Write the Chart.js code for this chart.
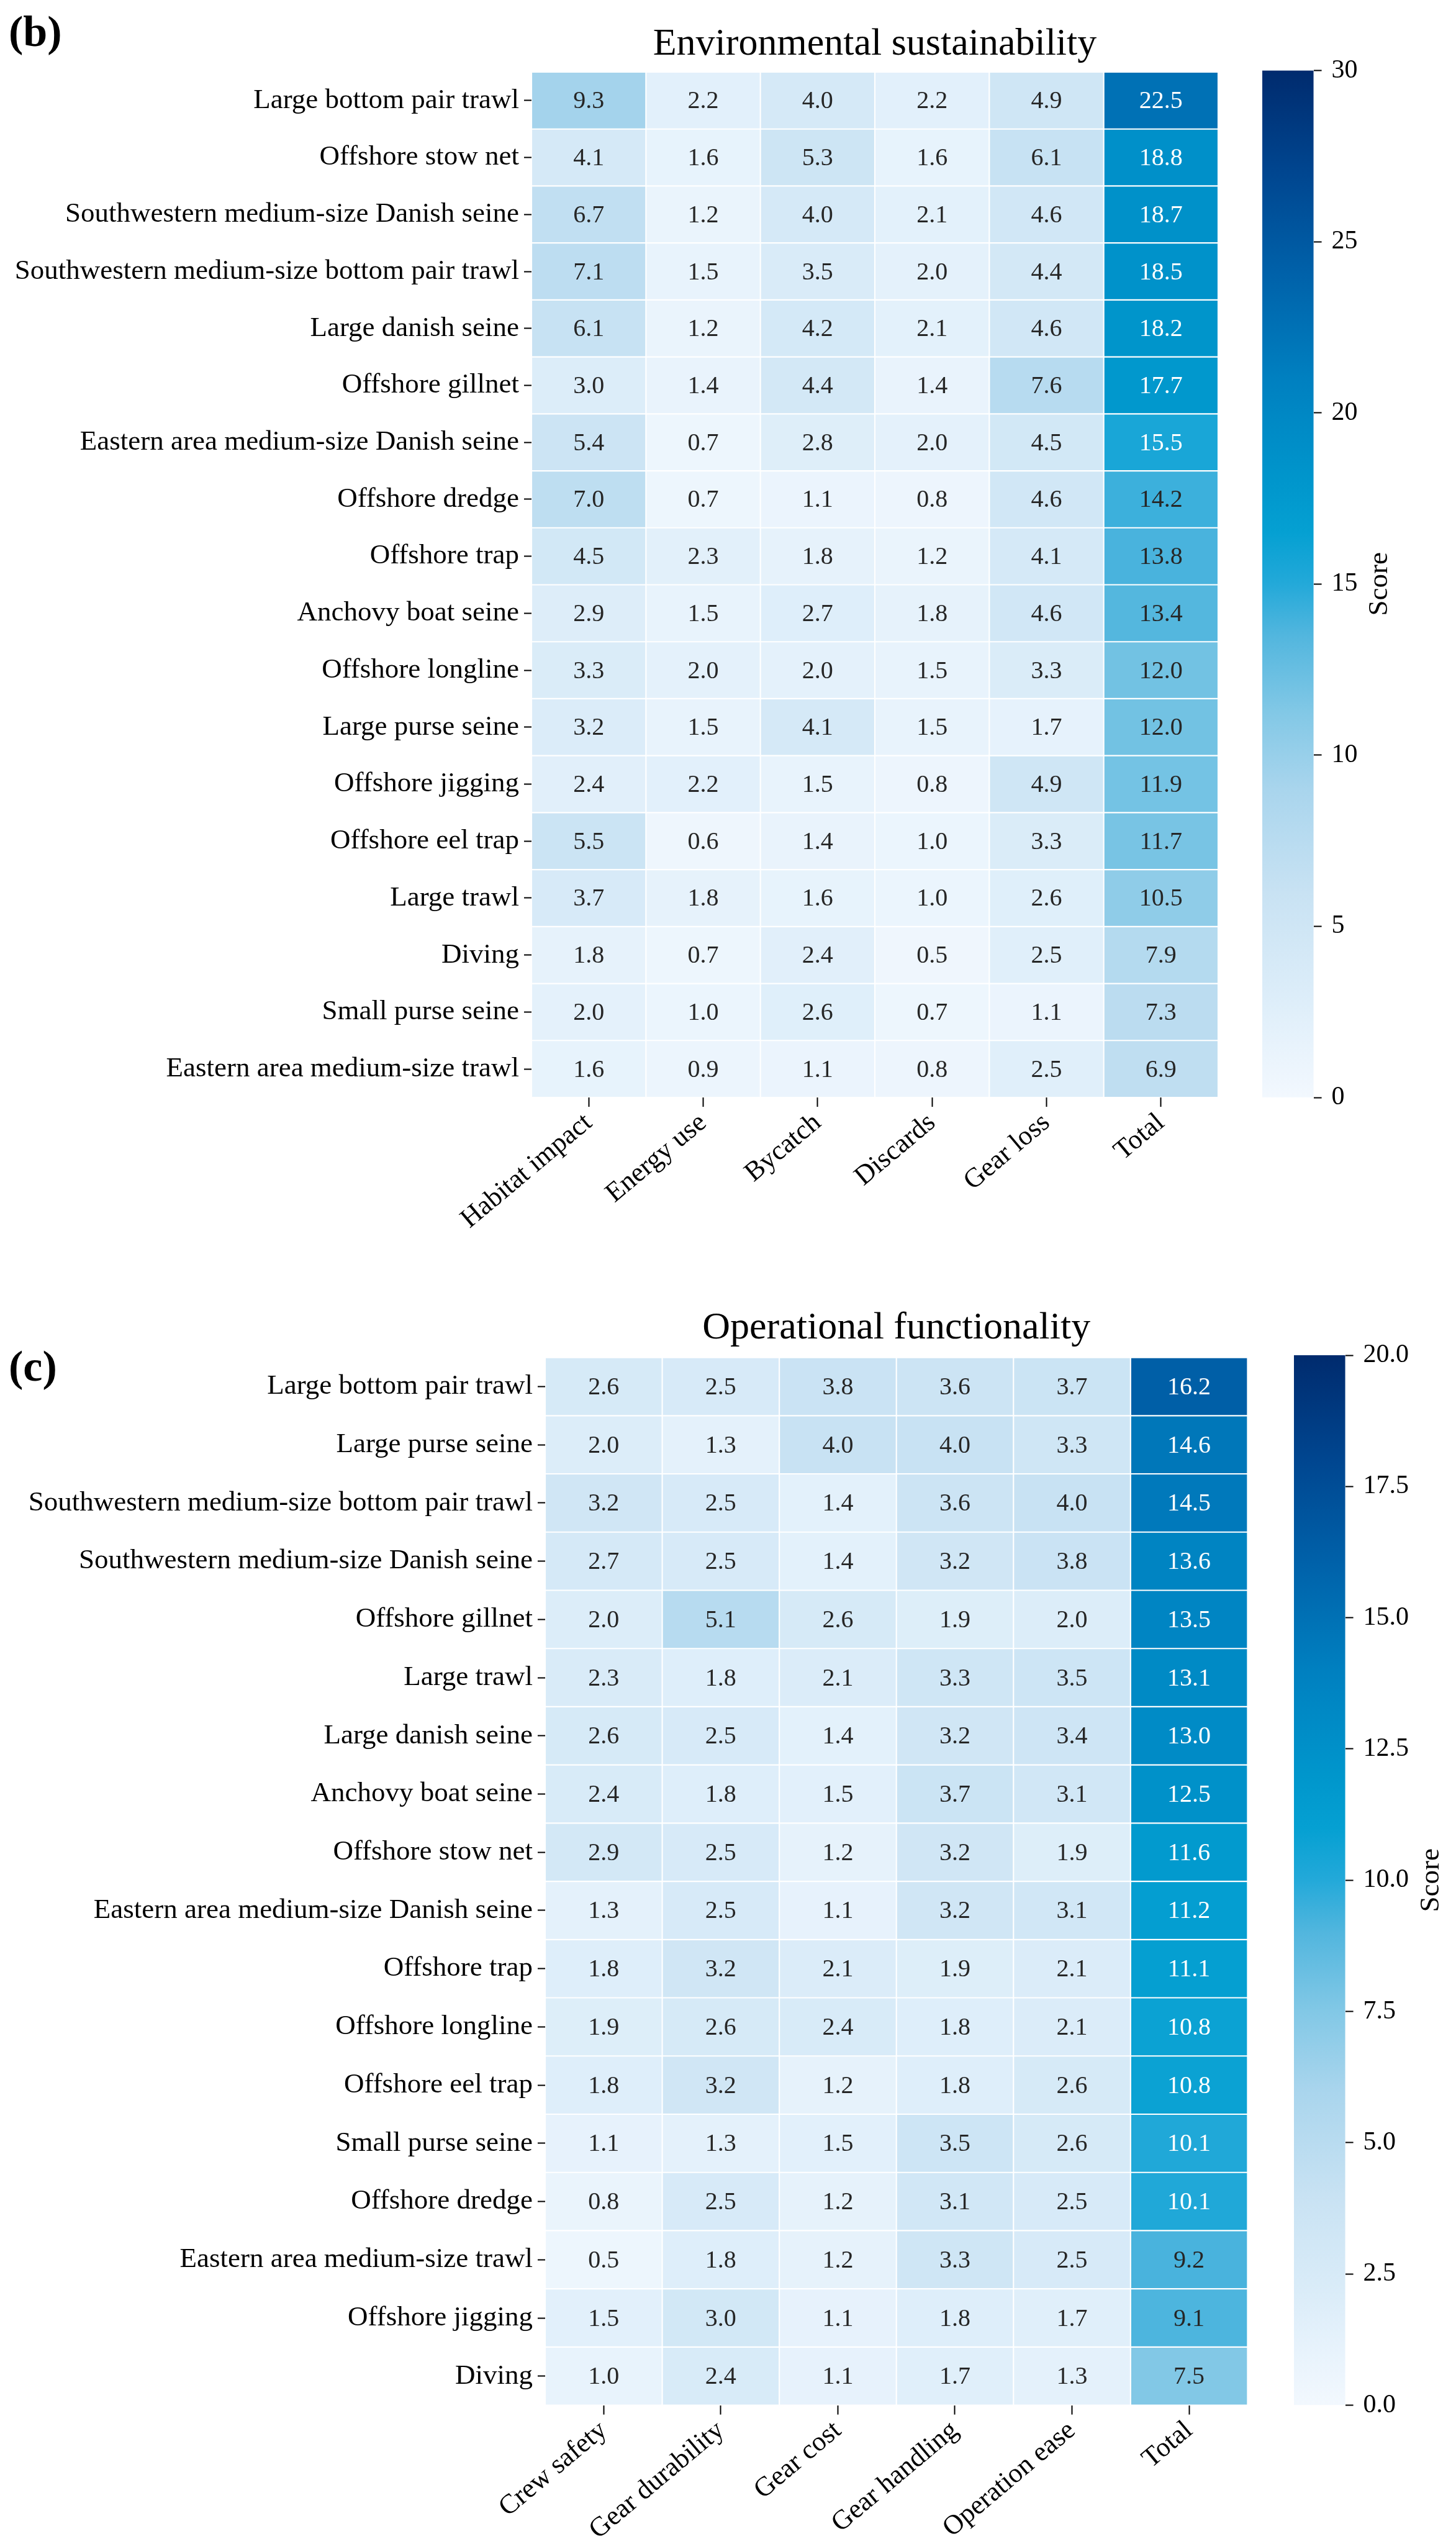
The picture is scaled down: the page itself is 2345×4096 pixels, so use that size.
<!DOCTYPE html>
<html>
<head>
<meta charset="utf-8">
<script src="https://cdn.jsdelivr.net/npm/chart.js@4.4.0/dist/chart.umd.min.js"></script>
<style>
  html, body { margin: 0; padding: 0; background: #fff; }
  #page { position: relative; width: 2345px; height: 4096px; overflow: hidden; }
  canvas { position: absolute; }
</style>
</head>
<body>
<div id="page">
  <canvas id="envChart" width="2345" height="2060" style="left:0;top:0"></canvas>
  <canvas id="envBar" width="312" height="2060" style="left:2033px;top:0"></canvas>
  <canvas id="opChart" width="2345" height="2036" style="left:0;top:2060px"></canvas>
  <canvas id="opBar" width="261" height="2036" style="left:2084px;top:2060px"></canvas>
</div>
<script>
// ---- data: (b) environmental sustainability
var envRows = [
  "Large bottom pair trawl", "Offshore stow net", "Southwestern medium-size Danish seine",
  "Southwestern medium-size bottom pair trawl", "Large danish seine", "Offshore gillnet",
  "Eastern area medium-size Danish seine", "Offshore dredge", "Offshore trap",
  "Anchovy boat seine", "Offshore longline", "Large purse seine", "Offshore jigging",
  "Offshore eel trap", "Large trawl", "Diving", "Small purse seine", "Eastern area medium-size trawl"
];
var envCols = ["Habitat impact", "Energy use", "Bycatch", "Discards", "Gear loss", "Total"];
var envValues = [
  [9.3, 2.2, 4.0, 2.2, 4.9, 22.5],
  [4.1, 1.6, 5.3, 1.6, 6.1, 18.8],
  [6.7, 1.2, 4.0, 2.1, 4.6, 18.7],
  [7.1, 1.5, 3.5, 2.0, 4.4, 18.5],
  [6.1, 1.2, 4.2, 2.1, 4.6, 18.2],
  [3.0, 1.4, 4.4, 1.4, 7.6, 17.7],
  [5.4, 0.7, 2.8, 2.0, 4.5, 15.5],
  [7.0, 0.7, 1.1, 0.8, 4.6, 14.2],
  [4.5, 2.3, 1.8, 1.2, 4.1, 13.8],
  [2.9, 1.5, 2.7, 1.8, 4.6, 13.4],
  [3.3, 2.0, 2.0, 1.5, 3.3, 12.0],
  [3.2, 1.5, 4.1, 1.5, 1.7, 12.0],
  [2.4, 2.2, 1.5, 0.8, 4.9, 11.9],
  [5.5, 0.6, 1.4, 1.0, 3.3, 11.7],
  [3.7, 1.8, 1.6, 1.0, 2.6, 10.5],
  [1.8, 0.7, 2.4, 0.5, 2.5, 7.9],
  [2.0, 1.0, 2.6, 0.7, 1.1, 7.3],
  [1.6, 0.9, 1.1, 0.8, 2.5, 6.9]
];
var envTicks = [0, 5, 10, 15, 20, 25, 30];

// ---- data: (c) operational functionality
var opRows = [
  "Large bottom pair trawl", "Large purse seine", "Southwestern medium-size bottom pair trawl",
  "Southwestern medium-size Danish seine", "Offshore gillnet", "Large trawl", "Large danish seine",
  "Anchovy boat seine", "Offshore stow net", "Eastern area medium-size Danish seine", "Offshore trap",
  "Offshore longline", "Offshore eel trap", "Small purse seine", "Offshore dredge",
  "Eastern area medium-size trawl", "Offshore jigging", "Diving"
];
var opCols = ["Crew safety", "Gear durability", "Gear cost", "Gear handling", "Operation ease", "Total"];
var opValues = [
  [2.6, 2.5, 3.8, 3.6, 3.7, 16.2],
  [2.0, 1.3, 4.0, 4.0, 3.3, 14.6],
  [3.2, 2.5, 1.4, 3.6, 4.0, 14.5],
  [2.7, 2.5, 1.4, 3.2, 3.8, 13.6],
  [2.0, 5.1, 2.6, 1.9, 2.0, 13.5],
  [2.3, 1.8, 2.1, 3.3, 3.5, 13.1],
  [2.6, 2.5, 1.4, 3.2, 3.4, 13.0],
  [2.4, 1.8, 1.5, 3.7, 3.1, 12.5],
  [2.9, 2.5, 1.2, 3.2, 1.9, 11.6],
  [1.3, 2.5, 1.1, 3.2, 3.1, 11.2],
  [1.8, 3.2, 2.1, 1.9, 2.1, 11.1],
  [1.9, 2.6, 2.4, 1.8, 2.1, 10.8],
  [1.8, 3.2, 1.2, 1.8, 2.6, 10.8],
  [1.1, 1.3, 1.5, 3.5, 2.6, 10.1],
  [0.8, 2.5, 1.2, 3.1, 2.5, 10.1],
  [0.5, 1.8, 1.2, 3.3, 2.5, 9.2],
  [1.5, 3.0, 1.1, 1.8, 1.7, 9.1],
  [1.0, 2.4, 1.1, 1.7, 1.3, 7.5]
];
var opTicks = [0, 2.5, 5, 7.5, 10, 12.5, 15, 17.5, 20];

// colour map, pale blue -> navy
var cmapStops = [
  [0.00, [242, 248, 254]],
  [0.05, [232, 243, 252]],
  [0.10, [220, 237, 249]],
  [0.20, [200, 226, 243]],
  [0.30, [169, 213, 237]],
  [0.375, [130, 200, 230]],
  [0.45, [82, 182, 222]],
  [0.50, [35, 169, 217]],
  [0.55, [5, 160, 210]],
  [0.60, [0, 150, 204]],
  [0.70, [0, 128, 192]],
  [0.80, [0, 98, 170]],
  [0.90, [0, 70, 144]],
  [1.00, [0, 43, 110]]
];
function cmap(t) {
  t = Math.max(0, Math.min(1, t));
  for (var k = 1; k < cmapStops.length; k++) {
    var a = cmapStops[k - 1], b = cmapStops[k];
    if (t <= b[0]) {
      var f = (t - a[0]) / (b[0] - a[0]);
      var c = a[1].map(function (v, i) { return Math.round(v + (b[1][i] - v) * f); });
      return "rgb(" + c.join(",") + ")";
    }
  }
  return "rgb(0,43,110)";
}

Chart.defaults.font.family = '"Liberation Serif", serif';
Chart.defaults.color = "#000";

function cellLabels(o) {
  return {
    id: "cellLabels",
    afterDatasetsDraw: function (chart) {
      var ctx = chart.ctx;
      ctx.save();
      ctx.font = o.valueSize + 'px "Liberation Serif"';
      ctx.textAlign = "center";
      ctx.textBaseline = "middle";
      chart.data.datasets.forEach(function (ds, j) {
        chart.getDatasetMeta(j).data.forEach(function (el, i) {
          var v = o.values[i][j];
          var p = el.getCenterPoint();
          ctx.fillStyle = v / o.vmax >= 0.49 ? "#ffffff" : "#262626";
          ctx.fillText(v.toFixed(1), p.x, p.y + 2);
        });
      });
      ctx.restore();
    },
    afterDraw: function (chart) {
      // panel letter
      var ctx = chart.ctx;
      ctx.save();
      ctx.font = 'bold 70px "Liberation Serif"';
      ctx.textBaseline = "middle";
      ctx.fillStyle = "#000";
      ctx.fillText(o.panel, 14, o.panelY);
      ctx.restore();
    }
  };
}

function heatmap(id, o) {
  var datasets = o.cols.map(function (c, j) {
    return {
      label: c,
      data: o.rows.map(function () { return [j, j + 1]; }),
      backgroundColor: o.values.map(function (r) { return cmap(r[j] / o.vmax); }),
      borderColor: "#ffffff",
      borderWidth: 1.4,
      borderSkipped: false,
      grouped: false,
      barPercentage: 1,
      categoryPercentage: 1
    };
  });
  return new Chart(document.getElementById(id), {
    type: "bar",
    data: { labels: o.rows, datasets: datasets },
    options: {
      indexAxis: "y",
      animation: false,
      responsive: false,
      devicePixelRatio: 1,
      layout: { padding: { top: 0, left: 0, right: o.padRight, bottom: 0 } },
      plugins: {
        legend: { display: false },
        tooltip: { enabled: false },
        title: {
          display: true, text: o.title, fullSize: false,
          font: { size: 62, weight: "normal" }, color: "#000",
          padding: { top: o.titleTop, bottom: o.titleBottom }
        }
      },
      scales: {
        x: {
          type: "linear", min: 0, max: o.cols.length,
          afterBuildTicks: function (s) { s.ticks = o.cols.map(function (c, j) { return { value: j + 0.5 }; }); },
          afterFit: function (s) { s.height = o.xAxisH; },
          ticks: {
            autoSkip: false, minRotation: 40, maxRotation: 40, padding: 0,
            font: { size: 44 }, color: "#000",
            callback: function (v, i) { return o.cols[i]; }
          },
          grid: { drawOnChartArea: false, drawTicks: true, tickLength: 15, tickWidth: 2, tickColor: "#000" },
          border: { display: false }
        },
        y: {
          afterFit: function (s) { s.width = o.yAxisW; },
          ticks: { autoSkip: false, padding: 8, font: { size: 45 }, color: "#000" },
          grid: { offset: false, drawOnChartArea: false, drawTicks: true, tickLength: 12, tickWidth: 2, tickColor: "#000" },
          border: { display: false }
        }
      }
    },
    plugins: [cellLabels(o)]
  });
}

function scoreLabel(o) {
  return {
    id: "scoreLabel",
    afterDraw: function (chart) {
      var ctx = chart.ctx, ca = chart.chartArea;
      ctx.save();
      ctx.font = '42px "Liberation Serif"';
      var w = 0;
      o.ticks.forEach(function (v) { w = Math.max(w, ctx.measureText(v.toFixed(o.decimals)).width); });
      var x = ca.right + 13 + 16 + w + 36;
      ctx.translate(x, (ca.top + ca.bottom) / 2);
      ctx.rotate(-Math.PI / 2);
      ctx.font = '45px "Liberation Serif"';
      ctx.textAlign = "center";
      ctx.textBaseline = "middle";
      ctx.fillStyle = "#000";
      ctx.fillText("Score", 0, 0);
      ctx.restore();
    }
  };
}

function colorbar(id, o) {
  return new Chart(document.getElementById(id), {
    type: "bar",
    data: {
      labels: [""],
      datasets: [{
        data: [[0, o.vmax]],
        backgroundColor: function (c) {
          var ca = c.chart.chartArea;
          if (!ca) return "#9ecae1";
          var g = c.chart.ctx.createLinearGradient(0, ca.bottom, 0, ca.top);
          cmapStops.forEach(function (s) { g.addColorStop(s[0], "rgb(" + s[1].join(",") + ")"); });
          return g;
        },
        borderWidth: 0,
        barPercentage: 1,
        categoryPercentage: 1
      }]
    },
    options: {
      animation: false,
      responsive: false,
      devicePixelRatio: 1,
      layout: { padding: { top: o.top, bottom: o.bottom, left: 0, right: 0 } },
      plugins: { legend: { display: false }, tooltip: { enabled: false } },
      scales: {
        x: { display: false },
        y: {
          position: "right", min: 0, max: o.vmax,
          afterBuildTicks: function (s) { s.ticks = o.ticks.map(function (v) { return { value: v }; }); },
          afterFit: function (s) { s.width = o.axisW; },
          ticks: {
            font: { size: 42 }, color: "#000", padding: 16,
            callback: function (v) { return Number(v).toFixed(o.decimals); }
          },
          grid: { drawOnChartArea: false, drawTicks: true, tickLength: 13, tickWidth: 2, tickColor: "#000" },
          border: { display: false }
        }
      }
    },
    plugins: [scoreLabel(o)]
  });
}

heatmap("envChart", {
  rows: envRows, cols: envCols, values: envValues, vmax: 30,
  title: "Environmental sustainability", panel: "(b)", panelY: 56,
  titleTop: 35, titleBottom: 6.6, yAxisW: 856, xAxisH: 293, padRight: 383, valueSize: 40
});
colorbar("envBar", { vmax: 30, ticks: envTicks, decimals: 0, top: 113.5, bottom: 293, axisW: 229.4 });

heatmap("opChart", {
  rows: opRows, cols: opCols, values: opValues, vmax: 20,
  title: "Operational functionality", panel: "(c)", panelY: 145,
  titleTop: 42, titleBottom: 9.2, yAxisW: 878, xAxisH: 223.4, padRight: 335.6, valueSize: 40
});
colorbar("opBar", { vmax: 20, ticks: opTicks, decimals: 1, top: 122, bottom: 223.4, axisW: 178.4 });
</script>
</body>
</html>
